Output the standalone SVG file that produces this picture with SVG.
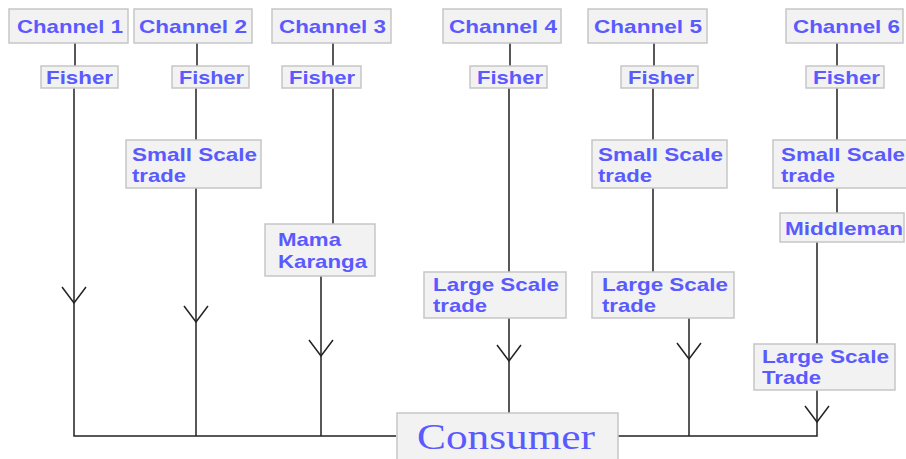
<svg xmlns="http://www.w3.org/2000/svg" width="906" height="459" viewBox="0 0 906 459">
<style>
.box{fill:#f2f2f2;stroke:#c6c6c6;stroke-width:1.5}
.t{font-family:"Liberation Sans",Arial,sans-serif;font-weight:bold;font-size:19px;fill:#5a5aff}
.c{font-family:"Liberation Serif","Times New Roman",serif;font-size:36px;fill:#5a5aff}
.ln{fill:none;stroke:#222;stroke-width:1.5}
</style>
<rect width="906" height="459" fill="#fff"/>
<g id="connectors" class="ln">
<path d="M75,43V66M74,88V436H396"/>
<path d="M62,287L74,303L86,287"/>
<path d="M197,43V66M196,88V140M196,188V436"/>
<path d="M184,306L196,322L208,306"/>
<path d="M333,43V66M333,88V224M321,276V436"/>
<path d="M309,340L321,356L333,340"/>
<path d="M510,43V66M509,88V272M509,318V413"/>
<path d="M497,345L509,361L521,345"/>
<path d="M654,43V66M653,88V140M653,188V272M689,318V436"/>
<path d="M677,343L689,359L701,343"/>
<path d="M837,43V66M837,88V140M837,188V213M817,242V344M817,390V436H617"/>
<path d="M805,406L817,422L829,406"/>
</g>
<g id="ch1"><rect class="box" x="9" y="9" width="119" height="34"/><text class="t" x="17" y="33" textLength="106" lengthAdjust="spacingAndGlyphs">Channel 1</text></g>
<g id="ch2"><rect class="box" x="134" y="9" width="118" height="34"/><text class="t" x="139" y="33" textLength="108" lengthAdjust="spacingAndGlyphs">Channel 2</text></g>
<g id="ch3"><rect class="box" x="272" y="9" width="119" height="34"/><text class="t" x="279" y="33" textLength="107" lengthAdjust="spacingAndGlyphs">Channel 3</text></g>
<g id="ch4"><rect class="box" x="443" y="9" width="118" height="34"/><text class="t" x="449" y="33" textLength="108" lengthAdjust="spacingAndGlyphs">Channel 4</text></g>
<g id="ch5"><rect class="box" x="588" y="9" width="119" height="34"/><text class="t" x="594" y="33" textLength="108" lengthAdjust="spacingAndGlyphs">Channel 5</text></g>
<g id="ch6"><rect class="box" x="786" y="9" width="117" height="34"/><text class="t" x="793" y="33" textLength="107" lengthAdjust="spacingAndGlyphs">Channel 6</text></g>
<g id="fisher1"><rect class="box" x="41" y="66" width="77" height="22"/><text class="t" x="46" y="84" textLength="67" lengthAdjust="spacingAndGlyphs">Fisher</text></g>
<g id="fisher2"><rect class="box" x="172" y="66" width="77" height="22"/><text class="t" x="179" y="84" textLength="65" lengthAdjust="spacingAndGlyphs">Fisher</text></g>
<g id="fisher3"><rect class="box" x="282" y="66" width="79" height="22"/><text class="t" x="289" y="84" textLength="66" lengthAdjust="spacingAndGlyphs">Fisher</text></g>
<g id="fisher4"><rect class="box" x="470" y="66" width="77" height="22"/><text class="t" x="477" y="84" textLength="66" lengthAdjust="spacingAndGlyphs">Fisher</text></g>
<g id="fisher5"><rect class="box" x="621" y="66" width="77" height="22"/><text class="t" x="628" y="84" textLength="66" lengthAdjust="spacingAndGlyphs">Fisher</text></g>
<g id="fisher6"><rect class="box" x="806" y="66" width="78" height="22"/><text class="t" x="813" y="84" textLength="67" lengthAdjust="spacingAndGlyphs">Fisher</text></g>
<g id="small2"><rect class="box" x="126" y="140" width="135" height="48"/><text class="t" x="132" y="161" textLength="125" lengthAdjust="spacingAndGlyphs">Small Scale</text><text class="t" x="132" y="182" textLength="54" lengthAdjust="spacingAndGlyphs">trade</text></g>
<g id="small5"><rect class="box" x="592" y="140" width="135" height="48"/><text class="t" x="598" y="161" textLength="125" lengthAdjust="spacingAndGlyphs">Small Scale</text><text class="t" x="598" y="182" textLength="54" lengthAdjust="spacingAndGlyphs">trade</text></g>
<g id="small6"><rect class="box" x="773" y="140" width="135" height="48"/><text class="t" x="781" y="161" textLength="124" lengthAdjust="spacingAndGlyphs">Small Scale</text><text class="t" x="781" y="182" textLength="54" lengthAdjust="spacingAndGlyphs">trade</text></g>
<g id="mama3"><rect class="box" x="265" y="224" width="110" height="52"/><text class="t" x="278" y="246" textLength="63" lengthAdjust="spacingAndGlyphs">Mama</text><text class="t" x="278" y="268" textLength="89" lengthAdjust="spacingAndGlyphs">Karanga</text></g>
<g id="middleman6"><rect class="box" x="780" y="213" width="124" height="29"/><text class="t" x="785" y="235" textLength="118" lengthAdjust="spacingAndGlyphs">Middleman</text></g>
<g id="large4"><rect class="box" x="424" y="272" width="142" height="46"/><text class="t" x="433" y="291" textLength="126" lengthAdjust="spacingAndGlyphs">Large Scale</text><text class="t" x="433" y="312" textLength="54" lengthAdjust="spacingAndGlyphs">trade</text></g>
<g id="large5"><rect class="box" x="592" y="272" width="142" height="46"/><text class="t" x="602" y="291" textLength="126" lengthAdjust="spacingAndGlyphs">Large Scale</text><text class="t" x="602" y="312" textLength="54" lengthAdjust="spacingAndGlyphs">trade</text></g>
<g id="large6"><rect class="box" x="754" y="344" width="141" height="46"/><text class="t" x="762" y="363" textLength="127" lengthAdjust="spacingAndGlyphs">Large Scale</text><text class="t" x="762" y="384" textLength="59" lengthAdjust="spacingAndGlyphs">Trade</text></g>
<g id="consumer"><rect class="box" x="397" y="413" width="221" height="50"/><text class="c" x="417" y="449" textLength="178" lengthAdjust="spacingAndGlyphs">Consumer</text></g>
</svg>
